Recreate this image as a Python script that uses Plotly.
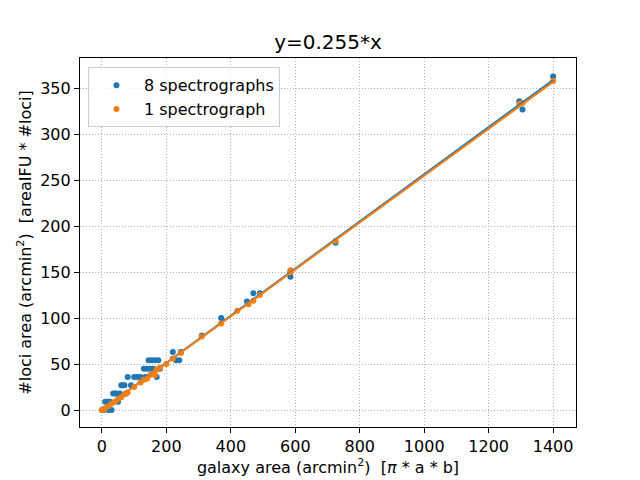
import plotly.graph_objects as go

# galaxy area vs loci area, 8 spectrographs
x_8spec = [0, 5, 10, 15, 20, 20, 25, 30, 35, 40, 45, 50, 55, 60, 65, 70, 75, 80, 90, 100,
           110, 120, 130, 135, 140, 145, 150, 155, 160, 165, 170, 175, 180, 220, 230, 240,
           245, 310, 370, 450, 470, 490, 585, 585, 725, 1295, 1305, 1400]
y_8spec = [0, 0, 9, 9, 0, 9, 9, 0, 18, 18, 18, 9, 18, 27, 27, 27, 18, 36, 27, 36,
           36, 36, 45, 36, 45, 54, 45, 54, 45, 54, 36, 54, 45, 63, 54, 54,
           63, 81, 100, 118, 127, 127, 145, 150, 182, 336, 327, 363]

# galaxy area vs loci area, 1 spectrograph
x_1spec = [0, 5, 10, 20, 30, 40, 50, 60, 70, 80, 100, 120, 130, 140, 150, 160, 165, 170,
           180, 200, 220, 245, 310, 370, 420, 455, 470, 490, 585, 585, 725, 1295, 1305, 1400]
y_1spec = [0, 1, 2, 4, 7, 9, 12, 14, 17, 19, 25, 30, 33, 34, 38, 40, 38, 44,
           46, 50, 56, 62, 80, 94, 108, 115, 119, 125, 150, 152, 184, 333, 334, 358]

# fit line endpoints
fit_x = [0, 1400]
fit_y_8spec = [0, 359]
fit_y_1spec = [0, 357]

blue = '#1f77b4'
orange = '#ff7f0e'

fig = go.Figure()
fig.add_trace(go.Scatter(x=x_8spec, y=y_8spec, mode='markers', name='8 spectrographs',
                         marker=dict(color=blue, size=6)))
fig.add_trace(go.Scatter(x=x_1spec, y=y_1spec, mode='markers', name='1 spectrograph',
                         marker=dict(color=orange, size=6)))
fig.add_trace(go.Scatter(x=fit_x, y=fit_y_8spec, mode='lines', showlegend=False,
                         line=dict(color=blue, width=2)))
fig.add_trace(go.Scatter(x=fit_x, y=fit_y_1spec, mode='lines', showlegend=False,
                         line=dict(color=orange, width=2)))

axis_style = dict(showline=True, linecolor='black', linewidth=1.2, mirror=True,
                  ticks='outside', ticklen=5, tickcolor='black',
                  showgrid=True, gridcolor='#b0b0b0', griddash='1px,2px', gridwidth=1,
                  zeroline=False, tickfont=dict(size=16, color='black'))

fig.update_xaxes(range=[-68, 1471], tickvals=list(range(0, 1401, 200)),
                 title=dict(text='galaxy area (arcmin<sup>2</sup>)  [<i>π</i> * a * b]',
                            font=dict(size=16, color='black'), standoff=4),
                 **axis_style)
fig.update_yaxes(range=[-18.5, 383], tickvals=list(range(0, 351, 50)),
                 title=dict(text='#loci area (arcmin<sup>2</sup>)  [areaIFU * #loci]',
                            font=dict(size=16, color='black'), standoff=4),
                 **axis_style)

fig.update_layout(
    width=640, height=480,
    title=dict(text='y=0.255*x', x=0.5, xanchor='center', xref='paper',
               yref='container', y=1 - 34 / 480, yanchor='middle',
               font=dict(size=20, color='black')),
    font=dict(family='DejaVu Sans', color='black'),
    plot_bgcolor='white', paper_bgcolor='white',
    margin=dict(l=72, r=72, t=50, b=61),
    legend=dict(x=0.016, y=0.975, xanchor='left', yanchor='top',
                bordercolor='#cccccc', borderwidth=1, bgcolor='rgba(255,255,255,0.8)',
                font=dict(size=16, color='black'), itemwidth=45),
    showlegend=True,
)

fig.write_html("out.html")
